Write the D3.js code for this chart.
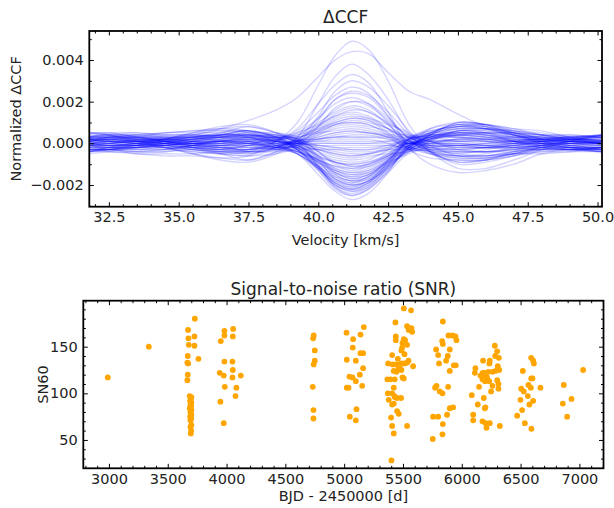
<!DOCTYPE html>
<html><head><meta charset="utf-8">
<script src="https://cdn.jsdelivr.net/npm/d3@7"></script>
<style>
body{margin:0;background:#fff}
svg{display:block}
text{font-family:"DejaVu Sans",sans-serif;fill:#222}
</style>
</head><body>
<svg id="c" width="614" height="508"></svg>
<script>
// ---------- DATA ----------
// velocity grid of the ΔCCF curves [km/s]
const velocities = [31.8,32.5,33.5,34.5,35.5,36.5,37.5,38.5,39.25,40.0,40.6,41.2,41.8,42.5,43.25,44.0,45.0,46.0,47.0,48.0,49.0,50.16];
// normalized ΔCCF curves, in units of 1e-4
const ccfCurves = [
[1,2,1,0,-1,-2,-3,1,10,28,42,49,45,30,9,-3,-10,-9,-6,-3,-1,0],
[0,1,1,2,4,7,11,16,22,32,40,44,43,34,25,21,14,8,4,2,1,0],
[2,3,2,1,-2,-5,-8,-4,3,19,32,38,33,21,5,-4,-9,-8,-6,-2,1,3],
[-4,-4,-5,-6,-6,-7,-6,1,7,19,28,33,29,15,-2,-10,-14,-13,-10,-5,-3,-3],
[4,3,1,-2,-5,-8,-9,-5,1,13,25,30,27,18,6,-4,-12,-12,-8,-3,1,4],
[-5,-4,-2,-1,0,1,0,2,6,15,23,27,24,13,-1,-4,-6,-6,-5,-5,-4,-4],
[0,1,2,2,1,-1,-4,-3,0,11,21,25,23,15,4,-4,-9,-8,-4,-1,0,0],
[-1,-3,-3,-2,-2,-3,-1,1,5,12,19,22,19,10,-2,-5,-6,-6,-5,-4,-4,-2],
[2,0,-1,-2,-5,-7,-8,-4,-1,8,17,20,18,11,3,-3,-6,-5,-2,1,1,1],
[0,-1,0,1,-1,-3,-4,1,4,10,15,18,16,9,-1,-5,-7,-7,-5,-2,0,0],
[3,3,3,2,0,-2,-3,-2,1,8,14,17,15,10,4,1,-2,-2,-1,0,2,3],
[-3,-3,-5,-5,-5,-4,-3,2,5,9,13,15,13,7,-3,-7,-8,-8,-6,-4,-3,-3],
[5,4,1,-1,-3,-5,-6,-3,0,6,11,13,12,9,5,-1,-6,-7,-5,-1,1,4],
[-4,-3,-1,0,2,3,3,3,4,7,10,12,11,5,-2,-2,-1,-2,-2,-3,-3,-4],
[1,2,3,3,3,1,-1,-3,-1,5,9,11,10,7,3,-2,-5,-3,-1,1,1,0],
[-1,-2,-2,-2,-1,0,2,3,3,6,9,10,9,4,-3,-3,-2,-2,-3,-3,-3,-2],
[2,1,0,-2,-4,-5,-6,-5,-2,4,8,9,8,6,3,-1,-3,-2,0,2,2,1],
[0,0,1,2,0,-1,0,2,3,5,6,7,6,3,-3,-3,-3,-4,-2,-1,1,0],
[3,4,4,3,1,0,-2,-2,0,3,5,6,5,4,4,2,1,1,1,1,3,3],
[-3,-3,-4,-4,-3,-3,-1,3,2,2,3,4,4,2,-2,-4,-4,-4,-4,-2,-2,-3],
[5,4,2,0,-2,-3,-4,-3,-1,2,3,3,3,3,3,1,-3,-4,-3,0,2,4],
[-4,-3,-1,1,3,4,4,3,1,1,2,2,2,0,-3,0,2,1,0,-2,-3,-4],
[1,2,3,4,4,3,1,-2,-1,0,0,0,0,1,3,1,-1,0,1,2,1,0],
[-1,-2,-2,-1,0,1,3,4,2,-1,-1,-1,-1,-1,-2,0,2,1,-1,-2,-3,-2],
[2,1,0,-1,-3,-4,-4,-4,-3,-3,-3,-3,-3,-1,2,1,1,2,3,3,2,1],
[0,0,1,2,1,1,1,2,1,-2,-3,-4,-4,-3,-3,-1,0,-1,0,0,1,0],
[3,4,4,3,3,2,0,-2,-2,-3,-5,-6,-5,-2,2,4,5,5,3,3,3,3],
[-3,-3,-4,-4,-2,-1,1,3,1,-3,-6,-7,-6,-5,-4,-2,-1,-1,-2,-1,-2,-3],
[5,4,2,1,-1,-2,-1,-2,-2,-5,-8,-9,-8,-3,3,3,1,0,0,1,2,4],
[-4,-3,-1,2,4,6,6,4,2,-4,-9,-10,-9,-6,-3,2,6,5,2,-1,-3,-4],
[1,2,3,5,5,5,3,-1,-4,-7,-9,-11,-10,-5,2,3,3,3,3,3,1,0],
[-1,-2,-2,0,1,3,5,5,3,-4,-10,-12,-11,-7,-4,1,6,5,1,-1,-3,-2],
[2,1,1,0,-2,-2,-2,-3,-4,-8,-11,-13,-11,-6,2,4,4,5,5,4,3,1],
[0,0,2,3,2,2,3,3,1,-6,-12,-14,-12,-7,-1,3,3,2,2,1,2,0],
[3,4,5,4,4,3,2,-1,-4,-9,-13,-15,-13,-7,3,6,8,8,5,4,4,3],
[-3,-3,-3,-3,-1,1,3,4,2,-6,-14,-16,-14,-9,-5,-1,2,2,0,0,-1,-3],
[5,5,3,1,0,0,0,-2,-4,-9,-14,-17,-15,-8,1,4,3,2,1,2,3,4],
[-4,-2,0,2,5,7,8,5,2,-7,-15,-18,-16,-8,2,7,9,7,4,0,-2,-4],
[1,3,4,5,6,6,5,-1,-5,-11,-16,-18,-16,-10,-4,1,5,5,5,4,2,0],
[-1,-1,-1,0,2,4,6,3,-1,-9,-16,-19,-17,-9,2,6,8,7,3,0,-2,-2],
[2,2,1,0,-1,-1,0,-3,-5,-12,-18,-20,-18,-11,-3,2,6,7,6,5,3,1],
[0,1,2,3,3,3,4,3,1,-8,-17,-20,-18,-9,2,5,5,4,3,2,2,0],
[3,5,5,4,4,4,3,-1,-4,-12,-19,-21,-18,-12,-3,4,10,9,6,4,4,3],
[-3,-2,-3,-3,-1,2,4,4,0,-10,-19,-22,-19,-10,1,4,4,4,1,0,-1,-3],
[5,5,3,1,0,1,1,-2,-5,-12,-20,-22,-19,-11,-3,2,5,4,2,2,3,4],
[-4,-2,0,2,5,8,9,5,0,-11,-20,-23,-20,-12,-1,7,10,9,5,0,-2,-4],
[1,3,4,5,6,7,6,0,-5,-13,-21,-24,-21,-11,2,5,7,7,6,4,2,0],
[0,-1,-1,1,3,5,8,5,1,-11,-21,-25,-22,-14,-4,4,10,9,4,1,-2,-2],
[3,2,1,1,0,0,1,-2,-5,-15,-23,-27,-24,-14,0,5,9,9,7,6,3,1],
[2,3,3,2,3,4,5,1,-3,-11,-17,-19,-16,-8,1,5,9,8,5,3,2,1],
[-2,-3,-2,0,2,3,4,2,-1,-7,-13,-16,-15,-9,-2,3,6,6,4,1,-1,-2],
[1,0,-1,-1,1,3,5,3,-2,-11,-18,-21,-19,-11,-2,4,8,8,5,2,1,0],
[4,4,3,2,2,3,3,0,-3,-8,-11,-12,-10,-6,0,3,5,4,2,2,3,4],
[-3,-4,-4,-3,-1,1,2,2,0,-4,-7,-8,-7,-4,-1,2,4,3,1,-2,-3,-3],
[2,3,3,1,0,-1,0,1,0,-2,-4,-5,-5,-3,0,1,2,2,1,1,2,2],
[-2,-2,-1,0,1,2,2,1,0,-1,-2,-2,-2,-1,0,0,0,-1,-1,-2,-2,-2],
[3,3,2,1,-1,-2,-2,-1,0,1,1,1,1,1,0,-1,-1,-1,0,1,2,3],
[-1,0,1,2,2,1,0,-1,0,2,4,5,5,3,1,0,-1,-2,-2,-1,-1,-1],
[1,1,0,-1,-2,-3,-3,-1,1,4,7,8,7,4,0,-3,-4,-4,-3,-1,0,1],
[-2,-2,-2,-2,-3,-4,-4,-2,2,7,12,14,12,7,1,-4,-6,-6,-4,-3,-2,-2],
[3,3,2,1,1,1,2,1,-2,-8,-12,-14,-13,-8,-2,2,4,5,4,3,3,3],
[-1,0,1,2,3,4,4,2,-2,-10,-15,-18,-17,-10,-2,3,7,7,5,2,0,-1],
[2,2,2,2,3,4,6,3,-3,-12,-20,-23,-21,-13,-2,4,8,9,7,4,2,2],
[-3,-3,-2,-1,1,2,3,1,-1,-6,-9,-10,-9,-5,0,3,4,3,1,-1,-2,-3],
[1,2,2,2,1,1,1,0,-1,-3,-5,-6,-5,-3,0,2,3,2,1,1,1,1],
[-3,-3,-2,-1,0,0,0,0,0,0,0,0,0,0,0,0,0,-1,-2,-3,-3,-3],
[2,1,0,0,0,-1,-1,0,1,2,3,3,3,2,0,-1,-1,0,1,2,2,2],
[0,-1,-2,-3,-4,-5,-4,-2,1,5,9,10,9,5,1,-2,-3,-2,-1,0,0,0],
[1,1,0,-1,-2,-4,-5,-2,2,9,16,20,19,12,2,-4,-7,-7,-5,-2,0,1],
[-2,-1,-1,-2,-3,-4,-5,-2,3,12,21,24,22,13,2,-5,-8,-8,-5,-3,-2,-2],
[0,1,1,1,2,3,4,2,-2,-9,-14,-17,-15,-9,-1,3,6,6,4,2,1,0],
[-2,-2,-1,1,3,5,6,2,-3,-11,-17,-20,-18,-10,-1,5,8,7,4,1,-1,-2],
[3,3,3,3,3,4,4,1,-3,-12,-19,-22,-20,-12,-2,4,7,7,5,3,3,3],
[-1,-1,0,1,2,3,3,1,-2,-8,-13,-15,-14,-8,-1,3,5,5,3,1,0,-1],
[2,2,1,0,0,1,2,1,-1,-6,-9,-11,-10,-6,-1,2,4,3,2,2,2,2],
[0,-1,-1,-1,0,0,1,1,0,-1,-2,-3,-3,-2,0,1,1,1,0,0,0,0],
[0,0,0,0,-1,-1,-1,0,1,3,5,6,5,3,0,-1,-2,-2,-1,0,0,0],
[2,2,1,0,-1,-2,-3,-1,1,6,10,12,11,7,1,-2,-4,-4,-3,-1,1,2],
[-1,-1,0,1,2,4,6,3,-3,-13,-22,-25,-22,-13,-2,5,9,9,6,2,0,-1],
[-1,-1,-1,-1,-2,-3,-3,-1,2,8,13,16,15,9,1,-3,-5,-6,-4,-2,-1,-1]
];
const velTicks = [32.5,35,37.5,40,42.5,45,47.5,50];
const ccfTicks = [-0.002,0,0.002,0.004];

// SNR panel
const bjd = [2990,3339,
3673,3676,3679,3670,3667,3673,3670,3667,3730,3727,3727,3761,
3687,3701,3696,3690,3701,3693,3699,3687,3701,3693,3701,3690,3699,3693,3701,3693,3699,3696,
3951,3982,3982,3982,3942,3976,3985,3948,3976,
4056,4053,4050,4053,4050,4121,4084,4076,
4741,4736,4750,4750,4741,4733,4739,4739,
5020,5076,5073,5022,5099,5139,5167,5139,5161,5045,5071,5099,5133,5161,5153,5022,5037,5105,5048,5099,
5507,5569,5436,5535,5572,5549,5578,5439,5439,5507,5518,5496,5535,5493,5487,5513,5408,5547,5456,5374,5413,5445,5473,5487,5515,5535,5586,5464,5487,5422,5445,5507,5496,5368,5394,5430,5371,5408,5422,5428,5430,5379,5450,5484,5408,5422,5450,5464,5399,5535,5408,5422,5402,
5839,5833,5839,5782,5898,5921,5946,5955,5887,5799,5881,5867,5807,5898,5932,5949,5785,5773,5884,5813,5836,5926,5898,5875,5756,5799,5839,5836,5753,
6281,6301,6284,6315,6181,6238,6116,6235,6306,6318,6111,6178,6201,6227,6261,6286,6159,6187,6215,6176,6198,6233,6301,6312,6261,6147,6312,6249,6085,6187,6136,6196,6201,6097,6097,6176,6204,6238,6210,6323,
6590,6607,6613,6519,6590,6601,6567,6587,6669,6505,6527,6562,6499,6607,6575,6513,6471,6536,6592,
6867,6859,6933,6896,7032];
const sn60 = [117,150,
168,159,152,140,133,132,120,114,180,161,151,137,
97,96,94,92,90,88,86,84,82,80,77,75,73,71,66,64,60,57,
156,167,162,134,122,119,107,91,68,
169,161,134,125,117,119,106,97,
162,159,146,135,131,107,82,73,
165,158,149,136,135,163,171,143,143,118,117,113,120,127,108,106,106,83,75,71,
191,189,176,172,170,168,166,161,157,158,157,154,152,149,146,142,141,135,137,132,131,131,130,132,132,133,129,127,125,124,123,116,117,115,115,115,100,100,106,97,96,93,95,95,88,89,81,78,74,65,65,57,28,
177,156,153,147,147,162,161,157,162,141,140,135,132,124,130,130,108,106,107,102,100,85,84,77,75,75,67,56,51,
151,145,140,138,135,135,127,132,129,125,122,122,122,123,123,124,119,117,117,115,113,113,114,110,108,107,105,102,98,95,88,84,85,77,71,70,68,68,63,65,
138,135,132,124,116,116,109,106,106,105,102,97,93,92,88,82,76,68,62,
109,89,94,75,125];
const bjdTicks = [3000,3500,4000,4500,5000,5500,6000,6500,7000];
const snTicks = [50,100,150];

// ---------- LAYOUT ----------
const svg = d3.select("#c");
const P1 = {l:89.3, t:31, r:602, b:206.7};
const P2 = {l:83.3, t:300.7, r:603.5, b:468.3};
const FS = "14.5px";

function frame(box, x, y, xMaj, xMin, yMaj, yMin, xFmt, yFmt){
  const g = svg.append("g");
  const style = sel => { sel.select(".domain").remove();
    sel.selectAll(".tick line").attr("stroke","#000").attr("stroke-width",1);
    sel.selectAll("text").style("font-size",FS).attr("fill","#222"); };
  const maj=4.5, mn=2.5, pad=5.5;
  g.append("g").attr("transform",`translate(0,${box.b})`)
    .call(d3.axisBottom(x).tickValues(xMin).tickSize(-mn).tickFormat("")).call(style);
  g.append("g").attr("transform",`translate(0,${box.b})`)
    .call(d3.axisBottom(x).tickValues(xMaj).tickSize(-maj).tickPadding(pad).tickFormat(xFmt)).call(style);
  g.append("g").attr("transform",`translate(0,${box.t})`)
    .call(d3.axisTop(x).tickValues(xMin).tickSize(-mn).tickFormat("")).call(style);
  g.append("g").attr("transform",`translate(0,${box.t})`)
    .call(d3.axisTop(x).tickValues(xMaj).tickSize(-maj).tickFormat("")).call(style);
  g.append("g").attr("transform",`translate(${box.l},0)`)
    .call(d3.axisLeft(y).tickValues(yMin).tickSize(-mn).tickFormat("")).call(style);
  g.append("g").attr("transform",`translate(${box.l},0)`)
    .call(d3.axisLeft(y).tickValues(yMaj).tickSize(-maj).tickPadding(pad).tickFormat(yFmt)).call(style);
  g.append("g").attr("transform",`translate(${box.r},0)`)
    .call(d3.axisRight(y).tickValues(yMin).tickSize(-mn).tickFormat("")).call(style);
  g.append("g").attr("transform",`translate(${box.r},0)`)
    .call(d3.axisRight(y).tickValues(yMaj).tickSize(-maj).tickFormat("")).call(style);
  g.append("rect").attr("x",box.l).attr("y",box.t).attr("width",box.r-box.l).attr("height",box.b-box.t)
    .attr("fill","none").attr("stroke","#000").attr("stroke-width",1.8);
}

// ---------- PANEL 1: ΔCCF ----------
const x1 = d3.scaleLinear().domain([31.8,50.16]).range([P1.l,P1.r]);
const y1 = d3.scaleLinear().domain([-0.00304,0.00539]).range([P1.b,P1.t]);
svg.append("clipPath").attr("id","cp1").append("rect")
  .attr("x",P1.l).attr("y",P1.t).attr("width",P1.r-P1.l).attr("height",P1.b-P1.t);
const line = d3.line().x((d,i)=>x1(velocities[i])).y(d=>y1(d*1e-4)).curve(d3.curveCatmullRom);
svg.append("g").attr("clip-path","url(#cp1)").selectAll("path").data(ccfCurves).join("path")
  .attr("d",line).attr("fill","none").attr("stroke","#0000ff").attr("stroke-opacity",0.17).attr("stroke-width",1.4);

const velMinor = d3.range(32,50.01,0.5).filter(v=>!velTicks.includes(v));
const ccfMinor = [-0.003,-0.001,0.001,0.003,0.005];
frame(P1,x1,y1,velTicks,velMinor,ccfTicks,ccfMinor,d3.format(".1f"),d3.format(".3f"));

svg.append("text").attr("x",(P1.l+P1.r)/2).attr("y",23).attr("text-anchor","middle").style("font-size","17px").text("ΔCCF");
svg.append("text").attr("x",(P1.l+P1.r)/2).attr("y",245).attr("text-anchor","middle").style("font-size",FS).text("Velocity [km/s]");
svg.append("text").attr("transform",`translate(21,${(P1.t+P1.b)/2}) rotate(-90)`).attr("text-anchor","middle").style("font-size",FS).text("Normalized ΔCCF");

// ---------- PANEL 2: SNR ----------
const x2 = d3.scaleLinear().domain([2782,7205]).range([P2.l,P2.r]);
const y2 = d3.scaleLinear().domain([19.6,199.3]).range([P2.b,P2.t]);
svg.append("g").selectAll("circle").data(bjd).join("circle")
  .attr("cx",d=>x2(d)).attr("cy",(d,i)=>y2(sn60[i])).attr("r",2.9).attr("fill","#ffa500");

const bjdMinor = d3.range(2800,7201,100).filter(v=>!bjdTicks.includes(v));
const snMinor = d3.range(20,191,10).filter(v=>!snTicks.includes(v));
frame(P2,x2,y2,bjdTicks,bjdMinor,snTicks,snMinor,d3.format("d"),d3.format("d"));

svg.append("text").attr("x",(P2.l+P2.r)/2).attr("y",295).attr("text-anchor","middle").style("font-size","17px").text("Signal-to-noise ratio (SNR)");
svg.append("text").attr("x",(P2.l+P2.r)/2).attr("y",501).attr("text-anchor","middle").style("font-size",FS).text("BJD - 2450000 [d]");
svg.append("text").attr("transform",`translate(48,${(P2.t+P2.b)/2}) rotate(-90)`).attr("text-anchor","middle").style("font-size",FS).text("SN60");
</script>
</body></html>
